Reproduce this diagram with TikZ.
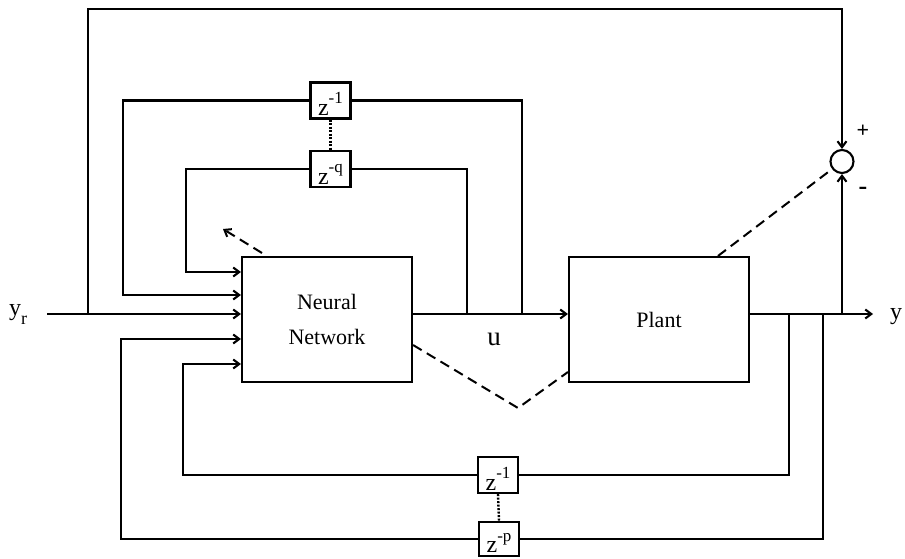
\documentclass[tikz,border=0pt]{standalone}
\usepackage{fontspec}
\setmainfont{Liberation Serif}
\usetikzlibrary{arrows.meta}
\begin{document}
\begin{tikzpicture}[x=1pt,y=-1pt,
  line width=2.1pt,
  every node/.style={font=\fontsize{22}{26}\selectfont},
  block/.style={draw, rectangle, line width=2.1pt, inner sep=0pt},
  zbox/.style={draw, rectangle, line width=2.1pt, minimum width=40pt, minimum height=36pt, inner sep=1pt, text height=31pt, text depth=0pt, font=\fontsize{24}{26}\selectfont},
  arr/.style={-{Straight Barb[length=6pt,width=9pt]}},
  dsh/.style={dash pattern=on 10pt off 6pt, line width=2pt},
  dots/.style={dash pattern=on 2pt off 1.5pt, line width=2.4pt},
]
\useasboundingbox (0,0) rectangle (905,559);
% blocks
\node[block, minimum width=170pt, minimum height=125pt, align=center, font=\fontsize{22}{35}\selectfont] (nn) at (327,319.5) {Neural\\Network};
\node[block, minimum width=180pt, minimum height=125pt] (plant) at (659,319.5) {Plant};
\node[zbox] (za) at (330.5,100.5) {z\raisebox{12pt}{\fontsize{17}{17}\selectfont -1}};
\node[zbox] (zq) at (330.5,169.3) {z\raisebox{12pt}{\fontsize{17}{17}\selectfont -q}};
\node[zbox] (zb) at (498,475) {z\raisebox{12pt}{\fontsize{17}{17}\selectfont -1}};
\node[zbox, minimum height=34pt, text height=27pt] (zp) at (499,539) {z\raisebox{11pt}{\fontsize{17}{17}\selectfont -p}};
\node[draw, circle, minimum size=23pt, inner sep=0pt] (sum) at (842,161.5) {};
% coordinates
\coordinate (yin) at (47,314);
\coordinate (jo) at (88,314);
\coordinate (ja) at (522,314);
\coordinate (jq) at (467,314);
\coordinate (jb) at (789,314);
\coordinate (jp) at (823,314);
\coordinate (js) at (842,314);
\coordinate (yout) at (873,314);
\coordinate (topy) at (0,9);
\coordinate (la) at (123,0);
\coordinate (lq) at (186,0);
\coordinate (lb) at (183,0);
\coordinate (lp) at (121,0);
\coordinate (ina) at (0,295);
\coordinate (inq) at (0,272);
\coordinate (inb) at (0,364);
\coordinate (inp) at (0,339);
% main path
\draw[arr] (yin) -- (yin -| nn.west);
\draw[arr] (yin -| nn.east) -- (yin -| plant.west);
\draw[arr] (yin -| plant.east) -- (yout);
\draw[arr] (jo) -- (jo |- topy) -- (sum.north |- topy) -- (sum.north);
\draw[arr] (js) -- (sum.south);
% delay loops
\draw (ja) -- (ja |- za) -- (za.east);
\draw[arr] (za.west) -- (la |- za) -- (la |- ina) -- (ina -| nn.west);
\draw (jq) -- (jq |- zq) -- (zq.east);
\draw[arr] (zq.west) -- (lq |- zq) -- (lq |- inq) -- (inq -| nn.west);
\draw (jb) -- (jb |- zb) -- (zb.east);
\draw[arr] (zb.west) -- (lb |- zb) -- (lb |- inb) -- (inb -| nn.west);
\draw (jp) -- (jp |- zp) -- (zp.east);
\draw[arr] (zp.west) -- (lp |- zp) -- (lp |- inp) -- (inp -| nn.west);
\draw[dots] (za.south) -- (zq.north);
\draw[dots] (zb.south) -- (zp.north);
% dashed error paths
\coordinate (da) at (262,253);
\coordinate (db) at (223,229);
\draw[dsh, arr] (da) -- (db);
\coordinate (vy) at (0,345);
\coordinate (v) at (518,408);
\coordinate (pv) at (0,372);
\draw[dsh] (vy -| nn.east) -- (v) -- (pv -| plant.west);
\coordinate (pd) at (718,0);
\draw[dsh] (pd |- plant.north) -- (sum);
% labels
\node[anchor=base west, inner sep=0pt, font=\fontsize{24}{26}\selectfont] (yr) at (8,315) {y\raisebox{-9pt}{\fontsize{18}{18}\selectfont r}};
\node[anchor=base west, inner sep=0pt, font=\fontsize{24}{26}\selectfont] (yo) at (889,319) {y};
\node[anchor=base, inner sep=0pt, font=\fontsize{27}{27}\selectfont] (u) at (494,345) {u};
\node[font=\bfseries\fontsize{22}{22}\selectfont] (plus) at (863,131) {+};
\node[font=\bfseries\fontsize{26}{26}\selectfont] (minus) at (863,191) {-};
\end{tikzpicture}
\end{document}
